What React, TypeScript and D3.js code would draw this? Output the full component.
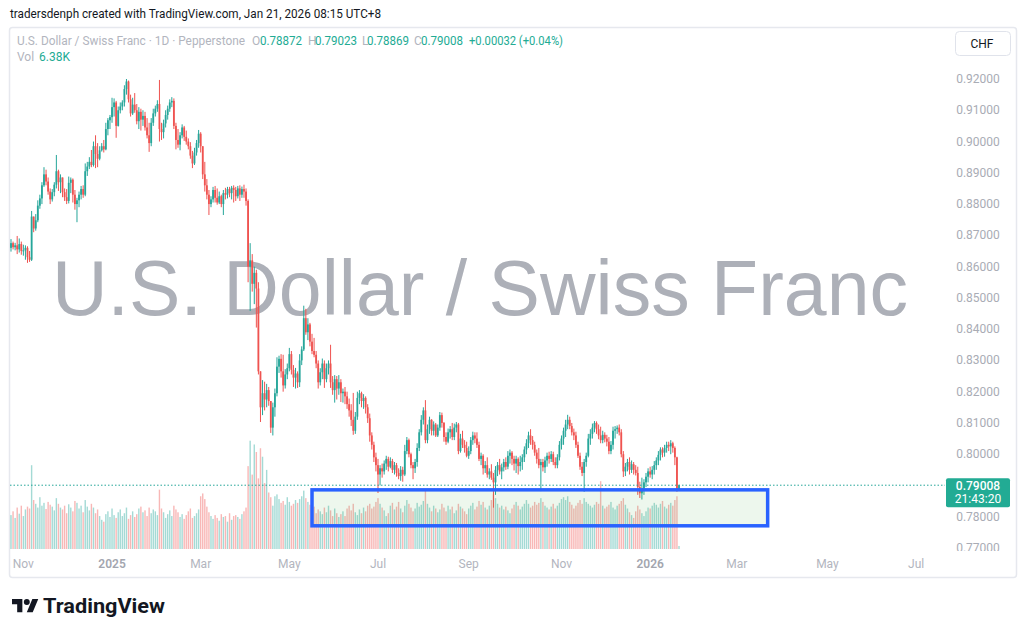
import React from "react";
import * as d3 from "d3";

// ---------- DATA ----------
const startDate = "2024-10-24";
const firstOpen = 0.866;

const closes = [
  0.8675, 0.8662, 0.8668, 0.8655, 0.8672, 0.865, 0.8652, 0.866, 0.863, 0.8622,
  0.876, 0.8722, 0.8748, 0.8795, 0.8818, 0.886, 0.8895, 0.8872, 0.884, 0.8815,
  0.8838, 0.8862, 0.8905, 0.887, 0.8885, 0.8838, 0.8822, 0.881, 0.8868, 0.8878,
  0.883, 0.88, 0.8812, 0.883, 0.8848, 0.883, 0.8905, 0.892, 0.8935, 0.8925,
  0.8985, 0.896, 0.8945, 0.8972, 0.8985, 0.8975, 0.904, 0.9068, 0.9078, 0.911,
  0.9125, 0.905, 0.91, 0.9112, 0.9125, 0.9168, 0.9192, 0.9135, 0.909, 0.9118,
  0.91, 0.9065, 0.9095, 0.907, 0.9082, 0.9045, 0.902, 0.8995, 0.906, 0.909,
  0.9105, 0.912, 0.904, 0.903, 0.9058, 0.9085, 0.9105, 0.9125, 0.913, 0.905,
  0.9005, 0.899, 0.902, 0.9045, 0.9015, 0.9, 0.8985, 0.8955, 0.893, 0.8965,
  0.8995, 0.9025, 0.8985, 0.8895, 0.886, 0.883, 0.88, 0.8815, 0.8845, 0.882,
  0.8805, 0.8825, 0.88, 0.8835, 0.883, 0.8848, 0.8835, 0.8852, 0.8845, 0.8825,
  0.885, 0.883, 0.8848, 0.884, 0.881, 0.86, 0.862, 0.8545, 0.858, 0.853,
  0.8265, 0.815, 0.8195, 0.8175, 0.8205, 0.817, 0.8085, 0.815, 0.8195, 0.828,
  0.8305, 0.8265, 0.822, 0.8255, 0.8275, 0.832, 0.827, 0.8245, 0.8258, 0.823,
  0.83, 0.8335, 0.8435, 0.839, 0.8415, 0.836, 0.833, 0.8318, 0.829, 0.823,
  0.8262, 0.829, 0.824, 0.8275, 0.829, 0.823, 0.8205, 0.824, 0.821, 0.823,
  0.8195, 0.82, 0.8185, 0.816, 0.814, 0.811, 0.8075, 0.812, 0.818, 0.8195,
  0.817, 0.818, 0.815, 0.8115, 0.806, 0.803, 0.799, 0.7965, 0.7935, 0.7955,
  0.7945, 0.797, 0.7985, 0.796, 0.7978, 0.795, 0.7965, 0.794, 0.793, 0.795,
  0.7935, 0.801, 0.8045, 0.8, 0.7965, 0.7955, 0.7975, 0.802, 0.807, 0.811,
  0.814, 0.8045, 0.808, 0.811, 0.8075, 0.8095, 0.806, 0.8085, 0.8125, 0.81,
  0.8055, 0.804, 0.807, 0.808, 0.8055, 0.8085, 0.8095, 0.801, 0.805, 0.803,
  0.802, 0.7995, 0.801, 0.8045, 0.806, 0.805, 0.803, 0.7985, 0.7995, 0.7955,
  0.7965, 0.7935, 0.7945, 0.7925, 0.791, 0.795, 0.7965, 0.7945, 0.7958, 0.7975,
  0.796, 0.7995, 0.8005, 0.7985, 0.797, 0.7985, 0.7962, 0.7975, 0.799, 0.8015,
  0.8035, 0.806, 0.8045, 0.803, 0.8005, 0.7985, 0.7965, 0.7975, 0.7958, 0.798,
  0.7995, 0.7985, 0.8, 0.7975, 0.7965, 0.799, 0.803, 0.805, 0.8075, 0.8095,
  0.811, 0.809, 0.807, 0.806, 0.803, 0.7995, 0.796, 0.794, 0.7975, 0.7995,
  0.805, 0.8065, 0.8085, 0.81, 0.808, 0.806, 0.8045, 0.8062, 0.805, 0.804,
  0.801, 0.803, 0.8075, 0.808, 0.8085, 0.807, 0.8, 0.7945, 0.796, 0.7975,
  0.795, 0.7968, 0.795, 0.794, 0.7895, 0.7875, 0.789, 0.791, 0.7928, 0.7945,
  0.7935, 0.795, 0.7965, 0.798, 0.7998, 0.8015, 0.8005, 0.802, 0.803, 0.8025,
  0.8035, 0.802, 0.799, 0.78872, 0.79008,
];

const highs = [
  0.8688, 0.868, 0.8676, 0.8698, 0.869, 0.868, 0.867, 0.8668, 0.8665, 0.865,
  0.8778, 0.876, 0.8768, 0.8812, 0.883, 0.887, 0.8918, 0.891, 0.8885, 0.885,
  0.8848, 0.887, 0.8957, 0.891, 0.8895, 0.8872, 0.885, 0.8848, 0.8888, 0.8885,
  0.8882, 0.8845, 0.882, 0.884, 0.8858, 0.886, 0.893, 0.8935, 0.895, 0.8973,
  0.9, 0.902, 0.8995, 0.8985, 0.8995, 0.9005, 0.906, 0.9075, 0.9085, 0.914,
  0.9138, 0.913, 0.9112, 0.9125, 0.9132, 0.918, 0.92, 0.9195, 0.915, 0.914,
  0.9155, 0.912, 0.911, 0.9105, 0.91, 0.9095, 0.9075, 0.906, 0.9075, 0.9105,
  0.9115, 0.9132, 0.9197, 0.906, 0.907, 0.91, 0.9115, 0.9135, 0.9142, 0.9138,
  0.906, 0.904, 0.903, 0.9055, 0.905, 0.9035, 0.901, 0.8998, 0.897, 0.898,
  0.9005, 0.9037, 0.903, 0.896, 0.8935, 0.888, 0.8845, 0.8825, 0.8855, 0.8858,
  0.885, 0.884, 0.883, 0.8845, 0.8852, 0.8855, 0.8855, 0.8858, 0.886, 0.8855,
  0.8858, 0.886, 0.8856, 0.8862, 0.885, 0.8815, 0.8675, 0.864, 0.86, 0.859,
  0.855, 0.8265, 0.8237, 0.8232, 0.8225, 0.8215, 0.817, 0.8165, 0.821, 0.831,
  0.8315, 0.832, 0.8318, 0.8272, 0.829, 0.834, 0.833, 0.8285, 0.8276, 0.8265,
  0.832, 0.8345, 0.8475, 0.8465, 0.8435, 0.842, 0.8385, 0.8372, 0.833, 0.83,
  0.8275, 0.8306, 0.83, 0.829, 0.83, 0.835, 0.825, 0.8253, 0.825, 0.8253,
  0.824, 0.821, 0.8215, 0.82, 0.8178, 0.816, 0.8196, 0.8135, 0.82, 0.8205,
  0.82, 0.8192, 0.8185, 0.816, 0.813, 0.807, 0.804, 0.8005, 0.7985, 0.7965,
  0.797, 0.798, 0.7995, 0.7992, 0.799, 0.7985, 0.7975, 0.7972, 0.7955, 0.7962,
  0.796, 0.803, 0.8055, 0.805, 0.8005, 0.7975, 0.7985, 0.8035, 0.808, 0.8125,
  0.815, 0.8173, 0.8095, 0.812, 0.8112, 0.8105, 0.81, 0.8095, 0.8135, 0.8133,
  0.8103, 0.807, 0.8082, 0.809, 0.81, 0.8098, 0.8103, 0.81, 0.8065, 0.8075,
  0.8045, 0.804, 0.8025, 0.8055, 0.8072, 0.807, 0.807, 0.804, 0.8005, 0.8,
  0.7978, 0.799, 0.7955, 0.7968, 0.794, 0.7962, 0.7975, 0.7985, 0.797, 0.7985,
  0.799, 0.801, 0.8015, 0.801, 0.7995, 0.7995, 0.799, 0.7995, 0.8, 0.8025,
  0.8048, 0.8072, 0.808, 0.8058, 0.804, 0.8015, 0.802, 0.7985, 0.7985, 0.7992,
  0.8005, 0.8008, 0.801, 0.8008, 0.799, 0.8, 0.8042, 0.806, 0.8085, 0.811,
  0.8126, 0.812, 0.81, 0.8082, 0.8072, 0.804, 0.8005, 0.7975, 0.7985, 0.8005,
  0.8065, 0.808, 0.8098, 0.8106, 0.8105, 0.8095, 0.8088, 0.8075, 0.807, 0.8062,
  0.8055, 0.8042, 0.8088, 0.809, 0.8092, 0.8095, 0.808, 0.801, 0.7972, 0.7985,
  0.799, 0.798, 0.7975, 0.7965, 0.796, 0.7912, 0.7925, 0.792, 0.794, 0.7955,
  0.796, 0.7962, 0.7978, 0.799, 0.801, 0.8022, 0.8022, 0.803, 0.804, 0.804,
  0.8045, 0.804, 0.8025, 0.7992, 0.79023,
];

const lows = [
  0.8648, 0.8655, 0.8652, 0.864, 0.8645, 0.8638, 0.8635, 0.8622, 0.8612, 0.8615,
  0.8618, 0.871, 0.8715, 0.8742, 0.8785, 0.88, 0.8855, 0.886, 0.883, 0.88,
  0.8808, 0.8825, 0.885, 0.8842, 0.8835, 0.8822, 0.881, 0.88, 0.8802, 0.8835,
  0.8805, 0.8782, 0.8742, 0.879, 0.8815, 0.882, 0.8825, 0.889, 0.8912, 0.8918,
  0.892, 0.8915, 0.8918, 0.894, 0.8968, 0.8965, 0.8972, 0.902, 0.904, 0.906,
  0.908, 0.9012, 0.9048, 0.909, 0.91, 0.9112, 0.915, 0.9125, 0.908, 0.9085,
  0.9092, 0.9055, 0.904, 0.9035, 0.905, 0.9035, 0.901, 0.8967, 0.8985, 0.905,
  0.908, 0.9095, 0.9, 0.9005, 0.901, 0.9045, 0.907, 0.9095, 0.911, 0.904,
  0.8975, 0.898, 0.8972, 0.901, 0.9002, 0.899, 0.8975, 0.8945, 0.8915, 0.8925,
  0.8955, 0.898, 0.8965, 0.888, 0.884, 0.8815, 0.8765, 0.879, 0.8805, 0.8805,
  0.8798, 0.88, 0.879, 0.8765, 0.8815, 0.8818, 0.8822, 0.8815, 0.8805, 0.881,
  0.8818, 0.881, 0.882, 0.882, 0.8795, 0.855, 0.8458, 0.852, 0.848, 0.8405,
  0.8255, 0.8103, 0.8125, 0.814, 0.815, 0.8155, 0.8068, 0.806, 0.812, 0.8185,
  0.826, 0.8245, 0.82, 0.821, 0.824, 0.8265, 0.8255, 0.8215, 0.821, 0.8212,
  0.8215, 0.8285, 0.833, 0.8382, 0.8365, 0.8345, 0.832, 0.831, 0.8275, 0.821,
  0.822, 0.824, 0.8212, 0.823, 0.8255, 0.8212, 0.819, 0.8165, 0.8175, 0.819,
  0.8167, 0.8165, 0.816, 0.8145, 0.812, 0.809, 0.8062, 0.8065, 0.811, 0.816,
  0.815, 0.8145, 0.813, 0.81, 0.804, 0.8015, 0.7975, 0.7945, 0.7876, 0.79,
  0.7925, 0.7935, 0.795, 0.7945, 0.7955, 0.794, 0.7935, 0.7928, 0.792, 0.7915,
  0.7912, 0.793, 0.8, 0.799, 0.7955, 0.792, 0.794, 0.796, 0.801, 0.806,
  0.8095, 0.8035, 0.8035, 0.8065, 0.806, 0.806, 0.8055, 0.8055, 0.8075, 0.8085,
  0.804, 0.803, 0.8035, 0.805, 0.8045, 0.8045, 0.807, 0.8, 0.8005, 0.802,
  0.8005, 0.799, 0.7985, 0.8, 0.803, 0.8035, 0.802, 0.7978, 0.7965, 0.7935,
  0.794, 0.7925, 0.792, 0.7918, 0.7829, 0.787, 0.793, 0.7935, 0.792, 0.7945,
  0.795, 0.7952, 0.797, 0.7965, 0.7948, 0.794, 0.7935, 0.7945, 0.795, 0.7975,
  0.8, 0.802, 0.803, 0.8015, 0.7995, 0.797, 0.7955, 0.7882, 0.7945, 0.794,
  0.796, 0.797, 0.7975, 0.7965, 0.7955, 0.7955, 0.798, 0.8015, 0.803, 0.8055,
  0.808, 0.808, 0.806, 0.8045, 0.802, 0.7988, 0.795, 0.793, 0.788, 0.796,
  0.799, 0.803, 0.805, 0.807, 0.8065, 0.8048, 0.8035, 0.8035, 0.8038, 0.8025,
  0.8, 0.8, 0.8015, 0.805, 0.8065, 0.806, 0.799, 0.7927, 0.793, 0.7945,
  0.7935, 0.794, 0.7935, 0.7932, 0.787, 0.786, 0.7855, 0.787, 0.7895, 0.791,
  0.7925, 0.792, 0.7935, 0.795, 0.7965, 0.798, 0.799, 0.7992, 0.8005, 0.801,
  0.8, 0.8005, 0.7965, 0.788, 0.78869,
];

// volume in thousands
const volumesK = [
  72, 80, 66, 88, 75, 92, 70, 84, 90, 86,
  178, 104, 96, 88, 110, 92, 98, 85, 100, 94,
  90, 82, 108, 96, 88, 84, 92, 76, 95, 88,
  80, 102, 98, 86, 92, 78, 104, 90, 82, 96,
  88, 76, 84, 70, 62, 58, 74, 80, 68, 86,
  72, 66, 78, 84, 70, 76, 88, 64, 72, 80,
  68, 74, 86, 90, 78, 82, 70, 88, 76, 84,
  80, 72, 126, 86, 78, 66, 74, 82, 70, 92,
  84, 78, 68, 74, 64, 72, 80, 86, 66, 70,
  76, 84, 112, 118, 106, 90, 78, 70, 64, 72,
  66, 60, 74, 68, 70, 58, 76, 62, 70, 72,
  68, 64, 74, 80, 88, 176, 230, 158, 222, 206,
  150, 214, 196, 140, 168, 120, 110, 92, 112, 116,
  106, 98, 102, 94, 110, 100, 92, 96, 104, 98,
  106, 112, 124, 108, 100, 94, 86, 90, 76, 84,
  80, 74, 88, 78, 92, 82, 70, 86, 76, 68,
  74, 80, 70, 86, 92, 82, 96, 78, 72, 84,
  76, 88, 80, 92, 96, 86, 90, 100, 108, 96,
  88, 82, 70, 76, 92, 98, 84, 90, 100, 86,
  78, 92, 104, 96, 88, 80, 86, 98, 90, 94,
  102, 128, 96, 88, 80, 92, 86, 78, 84, 96,
  88, 80, 92, 84, 90, 76, 82, 96, 90, 86,
  80, 74, 86, 92, 98, 84, 90, 102, 94, 100,
  88, 84, 92, 104, 116, 108, 96, 88, 92, 84,
  90, 82, 76, 86, 94, 100, 92, 84, 90, 96,
  104, 96, 88, 92, 100, 94, 98, 108, 100, 92,
  88, 84, 90, 96, 86, 92, 98, 106, 110, 104,
  112, 100, 94, 86, 92, 98, 104, 96, 108, 100,
  96, 92, 88, 94, 100, 96, 144, 92, 86, 90,
  94, 100, 88, 84, 92, 96, 102, 108, 94, 86,
  78, 72, 66, 80, 92, 84, 76, 70, 80, 88,
  86, 92, 98, 94, 88, 96, 102, 90, 86, 94,
  98, 92, 104, 112, 6.38,
];

const priceTicks = [0.92, 0.91, 0.9, 0.89, 0.88, 0.87, 0.86, 0.85, 0.84, 0.83, 0.82, 0.81, 0.8, 0.79, 0.78, 0.77];
const timeTickDates = ["2024-11-01", "2025-01-01", "2025-03-03", "2025-05-01", "2025-07-01", "2025-09-01", "2025-11-03", "2026-01-01", "2026-03-02", "2026-05-01", "2026-07-01"];
const timeTickLabels = ["Nov", "2025", "Mar", "May", "Jul", "Sep", "Nov", "2026", "Mar", "May", "Jul"];
const yearLabels = ["2025", "2026"];

const boxStartDate = "2025-05-16";
const boxEndDate = "2026-03-23";
const boxTopPrice = 0.7886;
const boxBottomPrice = 0.7771;

const lastPrice = 0.79008;
const countdown = "21:43:20";

// ---------- HELPERS ----------
function weekdays(from: string, to: string): string[] {
  const out: string[] = [];
  const d = new Date(from + "T00:00:00Z");
  const end = new Date(to + "T00:00:00Z");
  while (d <= end) {
    const w = d.getUTCDay();
    if (w !== 0 && w !== 6) out.push(d.toISOString().slice(0, 10));
    d.setUTCDate(d.getUTCDate() + 1);
  }
  return out;
}

const UP = "#26a69a";
const DOWN = "#ef5350";
const UI_FONT = "Roboto, 'Noto Sans', sans-serif";

export default function App() {
  const dates = weekdays(startDate, "2026-08-31");
  const idx = new Map<string, number>(dates.map((d, i) => [d, i] as [string, number]));
  const n = closes.length;

  const x = d3.scaleLinear().domain([0, n - 1]).range([11, 679]);
  const y = d3.scaleLinear().domain([0.77, 0.92]).range([548, 79]);
  const yv = d3.scaleLinear().domain([0, 240]).range([549, 436]);

  const bars = closes.map((c, i) => {
    const o = i === 0 ? firstOpen : closes[i - 1];
    const h = Math.max(highs[i], o, c);
    const l = Math.min(lows[i], o, c);
    return { i, o, h, l, c, v: volumesK[i], up: c >= o };
  });

  const bx0 = x(idx.get(boxStartDate) ?? 0);
  const bx1 = x(idx.get(boxEndDate) ?? 0);
  const by0 = y(boxTopPrice);
  const by1 = y(boxBottomPrice);
  const lastY = y(lastPrice);

  return (
    <svg
      width={1023}
      height={635}
      viewBox="0 0 1023 635"
      style={{ position: "absolute", left: 0, top: 0, background: "#ffffff" }}
    >
      <defs>
        <clipPath id="plotClip">
          <rect x={10} y={28} width={935} height={523} />
        </clipPath>
        <clipPath id="axisClip">
          <rect x={945} y={60} width={72} height={491} />
        </clipPath>
      </defs>
      <rect x={0} y={0} width={1023} height={635} fill="#ffffff" />

      {/* header */}
      <text x={10} y={18} fontFamily={UI_FONT} fontSize={12} fill="#131722" textLength={371} lengthAdjust="spacingAndGlyphs">
        tradersdenph created with TradingView.com, Jan 21, 2026 08:15 UTC+8
      </text>

      {/* frame */}
      <rect x={9.5} y={27.5} width={1007} height={550} rx={3} fill="#ffffff" stroke="#e6e8ee" strokeWidth={1.5} />

      {/* watermark */}
      <text
        x={480}
        y={315}
        textAnchor="middle"
        fontFamily="'Liberation Sans', Arial, sans-serif"
        fontSize={77}
        fill="#adb0b8"
        textLength={856}
        lengthAdjust="spacingAndGlyphs"
      >
        U.S. Dollar / Swiss Franc
      </text>

      <g clipPath="url(#plotClip)">
        {/* volume */}
        {bars.map((b) => (
          <rect
            key={"v" + b.i}
            x={x(b.i) - 0.7}
            y={yv(b.v)}
            width={1.4}
            height={yv(0) - yv(b.v)}
            fill={b.up ? "rgba(38,166,154,0.42)" : "rgba(239,83,80,0.42)"}
          />
        ))}

        {/* candles */}
        {bars.map((b) => {
          const cx = x(b.i);
          const col = b.up ? UP : DOWN;
          const top = y(Math.max(b.o, b.c));
          const bot = y(Math.min(b.o, b.c));
          return (
            <g key={"c" + b.i}>
              <rect x={cx - 0.5} y={y(b.h)} width={1} height={Math.max(1, y(b.l) - y(b.h))} fill={col} />
              <rect x={cx - 0.9} y={top} width={1.8} height={Math.max(1, bot - top)} fill={col} />
            </g>
          );
        })}

        {/* rectangle drawing */}
        <rect
          x={bx0}
          y={by0}
          width={bx1 - bx0}
          height={by1 - by0}
          fill="rgba(76,175,80,0.1)"
          stroke="#2962ff"
          strokeWidth={3.5}
        />

        {/* last price line */}
        <line x1={10} x2={946} y1={lastY} y2={lastY} stroke={UP} strokeWidth={1} strokeDasharray="1.5,2" />
      </g>

      {/* legend */}
      <text x={17} y={45} fontFamily={UI_FONT} fontSize={12} fill="#b2b5be" textLength={228} lengthAdjust="spacingAndGlyphs">
        U.S. Dollar / Swiss Franc · 1D · Pepperstone
      </text>
      <g fontFamily={UI_FONT} fontSize={12}>
        <text x={252} y={45} fill="#b2b5be">O</text>
        <text x={260} y={45} fill="#22ab94" textLength={42} lengthAdjust="spacingAndGlyphs">0.78872</text>
        <text x={308} y={45} fill="#b2b5be">H</text>
        <text x={315} y={45} fill="#22ab94" textLength={42} lengthAdjust="spacingAndGlyphs">0.79023</text>
        <text x={362} y={45} fill="#b2b5be">L</text>
        <text x={367} y={45} fill="#22ab94" textLength={42} lengthAdjust="spacingAndGlyphs">0.78869</text>
        <text x={414} y={45} fill="#b2b5be">C</text>
        <text x={421} y={45} fill="#22ab94" textLength={42} lengthAdjust="spacingAndGlyphs">0.79008</text>
        <text x={469} y={45} fill="#22ab94" textLength={94} lengthAdjust="spacingAndGlyphs">+0.00032 (+0.04%)</text>
        <text x={17} y={61} fill="#b2b5be">Vol</text>
        <text x={39} y={61} fill="#22ab94">6.38K</text>
      </g>

      {/* CHF button */}
      <rect x={955.5} y={31.5} width={55} height={24} rx={4} fill="#ffffff" stroke="#e0e3eb" />
      <text x={982} y={48} textAnchor="middle" fontFamily={UI_FONT} fontSize={12} fill="#131722">CHF</text>

      {/* price axis */}
      <g clipPath="url(#axisClip)">
        {priceTicks.map((p) => (
          <text
            key={"p" + p}
            x={978}
            y={y(p) + 4}
            textAnchor="middle"
            fontFamily={UI_FONT}
            fontSize={12}
            fill="#a9acb5"
          >
            {p.toFixed(5)}
          </text>
        ))}
      </g>

      {/* last price label */}
      <rect x={946} y={lastY - 7} width={64} height={29} rx={2} fill="#22ab94" />
      <text x={978} y={lastY + 4.5} textAnchor="middle" fontFamily={UI_FONT} fontSize={12} fontWeight={500} fill="#ffffff">
        {lastPrice.toFixed(5)}
      </text>
      <text x={978} y={lastY + 18} textAnchor="middle" fontFamily={UI_FONT} fontSize={12} fill="#ffffff">
        {countdown}
      </text>

      {/* time axis */}
      {timeTickDates.map((d, k) => {
        const i = idx.get(d) ?? 0;
        const isYear = yearLabels.includes(timeTickLabels[k]);
        return (
          <text
            key={"t" + k}
            x={x(i)}
            y={568}
            textAnchor="middle"
            fontFamily={UI_FONT}
            fontSize={12}
            fontWeight={isYear ? 600 : 400}
            fill={isYear ? "#a3a6af" : "#b2b5be"}
          >
            {timeTickLabels[k]}
          </text>
        );
      })}

      {/* TradingView logo */}
      <g transform="translate(12,596) scale(0.74)" fill="#131722">
        <path d="M14 22H7V11H0V4h14v18zM28 22h-8l7.5-18h8L28 22z" />
        <circle cx={20} cy={8} r={4} />
      </g>
      <text x={43} y={613} fontFamily={UI_FONT} fontSize={20} fontWeight={700} fill="#131722" textLength={122} lengthAdjust="spacingAndGlyphs">
        TradingView
      </text>
    </svg>
  );
}
